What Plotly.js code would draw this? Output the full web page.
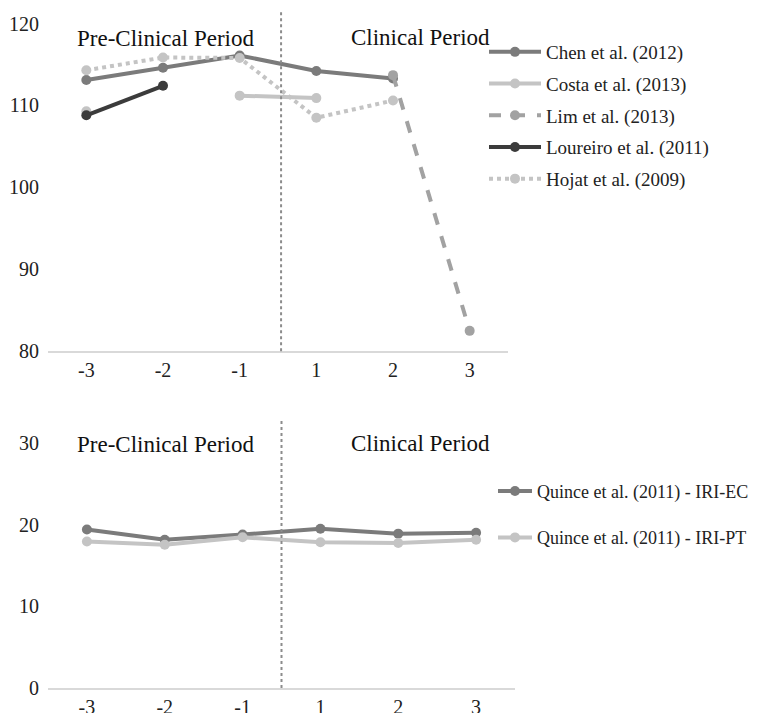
<!DOCTYPE html>
<html>
<head>
<meta charset="utf-8">
<script src="https://cdn.plot.ly/plotly-3.0.1.min.js"></script>
<style>html,body{margin:0;padding:0;background:#fff;}</style>
</head>
<body>
<div id="chart" style="width:766px;height:713px;"></div>
<script>
// ---- data ----
const years = ["-3", "-2", "-1", "1", "2", "3"];

const chen     = [113.1, 114.6, 116.1, 114.2, 113.3, null];
const costa    = [109.3, null, 111.2, 110.9, null, null];
const lim      = [null, null, null, null, 113.7, 82.5];
const loureiro = [108.8, 112.4, null, null, null, null];
const hojat    = [114.3, 115.85, 115.8, 108.5, 110.6, null];

const iriEC = [19.4, 18.15, 18.8, 19.5, 18.9, 19.0];
const iriPT = [17.95, 17.55, 18.45, 17.85, 17.75, 18.15];

const topNames = ["Chen et al. (2012)", "Costa et al. (2013)", "Lim et al. (2013)", "Loureiro et al. (2011)", "Hojat et al. (2009)"];
const botNames = ["Quince et al. (2011) - IRI-EC", "Quince et al. (2011) - IRI-PT"];
const periodLabels = ["Pre-Clinical Period", "Clinical Period"];

// ---- styling ----
const W = 766, H = 713;
const ML = 48, MR = 150, MT = 10, MB = 24.7;
const PW = W - ML - MR, PH = H - MT - MB;
const FONT = "Liberation Serif, Times New Roman, serif";
const cChen = "#7b7b7b", cCosta = "#c4c4c4", cLim = "#a2a2a2", cLour = "#3b3b3b", cHojat = "#c4c4c4";

function tr(y, name, color, dash, xa, ya, leg, grp) {
  return {
    x: years, y: y, name: name, type: "scatter", mode: "lines+markers",
    xaxis: xa, yaxis: ya, legend: leg, legendgroup: grp,
    connectgaps: false,
    line: {color: color, width: 4, dash: dash},
    marker: {color: color, size: 10}
  };
}

const data = [
  tr(chen, topNames[0], cChen, "solid", "x", "y", "legend", "g1"),
  tr(costa, topNames[1], cCosta, "solid", "x", "y", "legend", "g2"),
  tr(lim, topNames[2], cLim, "dash", "x", "y", "legend", "g3"),
  tr(loureiro, topNames[3], cLour, "solid", "x", "y", "legend", "g4"),
  tr(hojat, topNames[4], cHojat, "dot", "x", "y", "legend", "g5"),
  tr(iriEC, botNames[0], cChen, "solid", "x2", "y2", "legend2", "h1"),
  tr(iriPT, botNames[1], cCosta, "solid", "x2", "y2", "legend2", "h2")
];

// pixel -> paper fractions
const px = v => (v - ML) / PW;
const py = v => (H - MB - v) / PH;

const xCommon = {
  type: "category", showgrid: false, zeroline: false, automargin: false,
  showline: true, linecolor: "#d9d9d9", linewidth: 1.5,
  range: [-0.5, 5.5],
  ticks: "", tickfont: {family: FONT, size: 20, color: "#222"},
  ticklabelstandoff: 0, fixedrange: true
};
const yCommon = {
  showgrid: false, zeroline: false, showline: false, automargin: false,
  ticks: "", tickfont: {family: FONT, size: 20, color: "#222"},
  ticklabelstandoff: 8, fixedrange: true
};

const periodFont = {family: FONT, size: 23, color: "#111"};

function ann(text, x, y) {
  return {text: text, xref: "paper", yref: "paper", x: px(x), y: py(y),
          xanchor: "center", yanchor: "middle", showarrow: false, font: periodFont};
}

const layout = {
  width: W, height: H, autosize: false,
  margin: {l: ML, r: MR, t: MT, b: MB, pad: 0},
  paper_bgcolor: "#fff", plot_bgcolor: "#fff",
  showlegend: true,
  xaxis: Object.assign({}, xCommon, {domain: [0, px(508)], anchor: "y"}),
  yaxis: Object.assign({}, yCommon, {domain: [py(351.5), 1], range: [80, 121.65], tickvals: [80, 90, 100, 110, 120], anchor: "x"}),
  xaxis2: Object.assign({}, xCommon, {domain: [0, px(515)], anchor: "y2"}),
  yaxis2: Object.assign({}, yCommon, {domain: [0, py(420)], range: [0, 32.84], tickvals: [0, 10, 20, 30], anchor: "x2"}),
  legend: {
    x: px(484), y: py(33), xanchor: "left", yanchor: "top",
    font: {family: FONT, size: 19, color: "#222"}, tracegroupgap: 4, itemwidth: 52,
    bgcolor: "rgba(0,0,0,0)"
  },
  legend2: {
    x: px(754), y: py(473), xanchor: "right", yanchor: "top",
    font: {family: FONT, size: 18, color: "#222"}, tracegroupgap: 20, itemwidth: 34,
    bgcolor: "rgba(0,0,0,0)"
  },
  shapes: [
    {type: "line", xref: "x", yref: "y domain", x0: 2.54, x1: 2.54, y0: 0, y1: 1,
     line: {color: "#8c8c8c", width: 2, dash: "dot"}},
    {type: "line", xref: "x2", yref: "y2 domain", x0: 2.5, x1: 2.5, y0: 0, y1: 1,
     line: {color: "#8c8c8c", width: 2, dash: "dot"}}
  ],
  annotations: [
    ann(periodLabels[0], 165, 39),
    ann(periodLabels[1], 420, 38),
    ann(periodLabels[0], 165, 445),
    ann(periodLabels[1], 420, 444)
  ]
};

Plotly.newPlot("chart", data, layout, {displayModeBar: false, staticPlot: true});
</script>
</body>
</html>
